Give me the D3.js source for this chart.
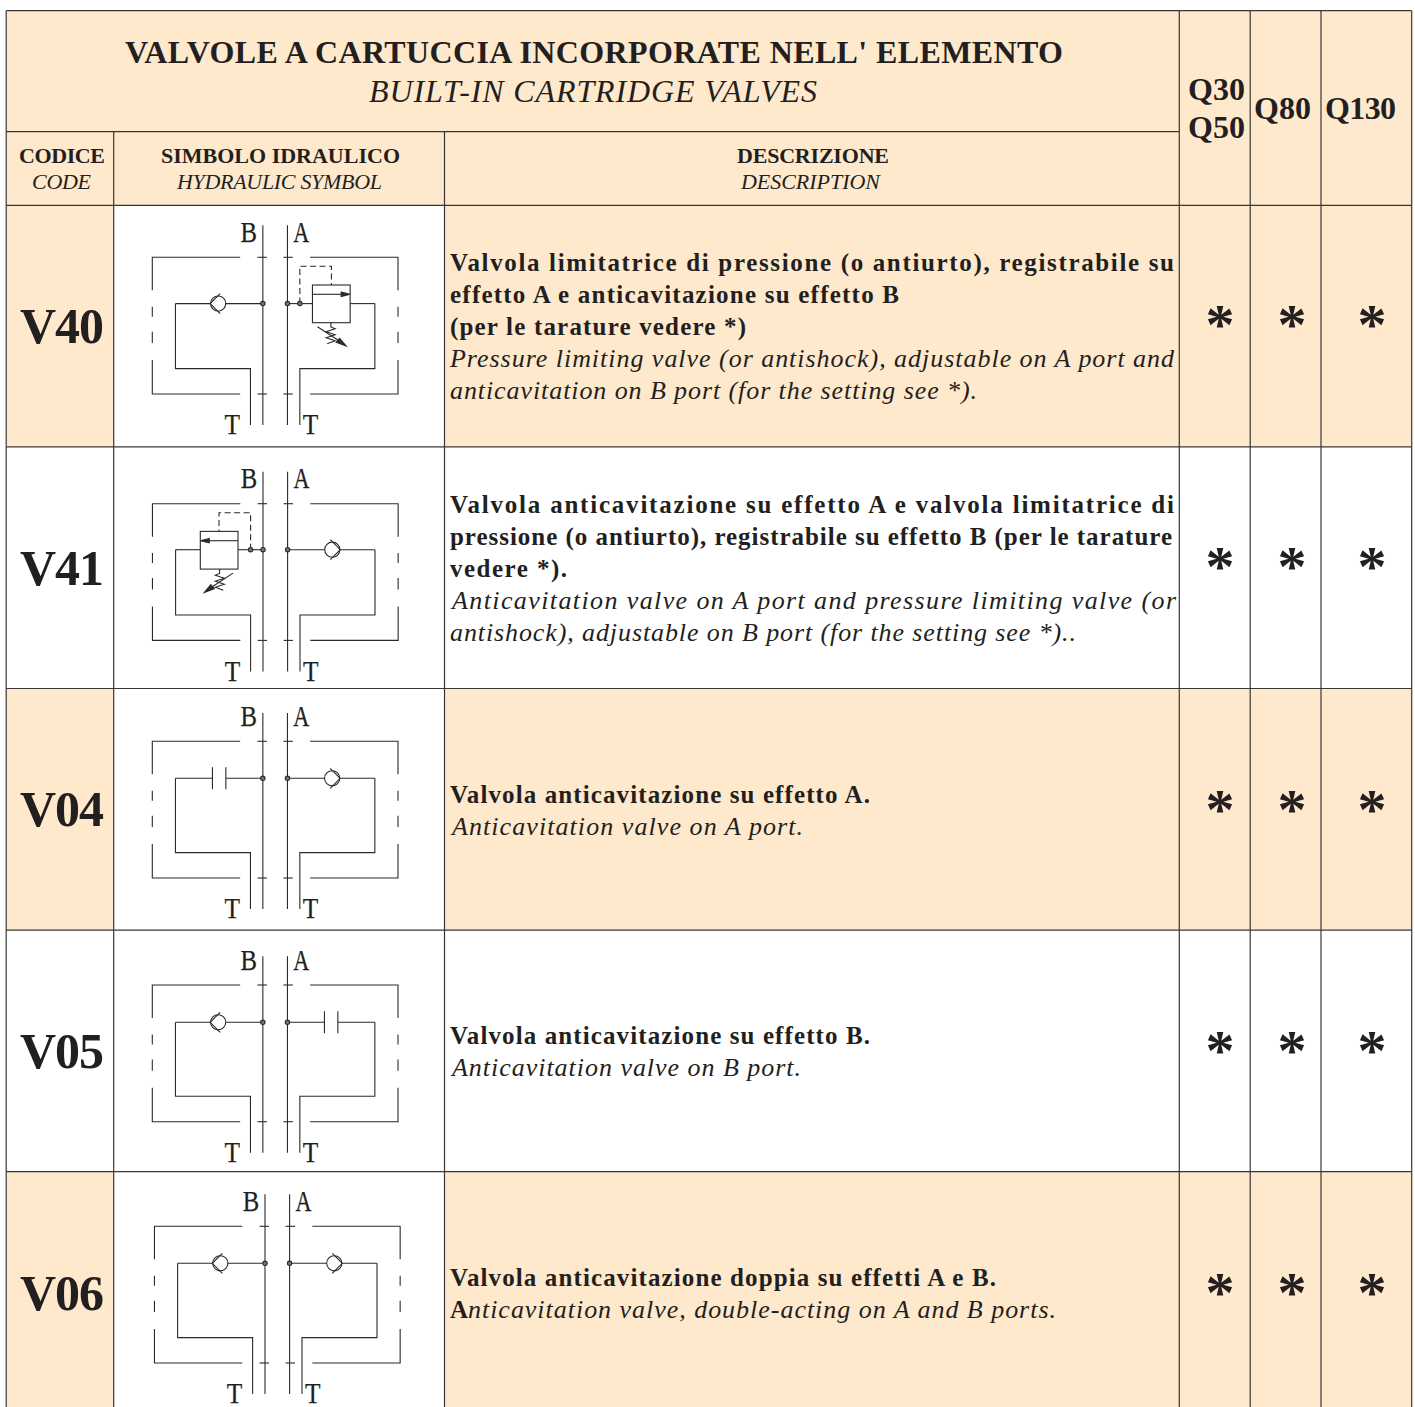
<!DOCTYPE html>
<html><head><meta charset="utf-8">
<script src="https://cdn.jsdelivr.net/npm/d3@7/dist/d3.min.js"></script>
<style>html,body{margin:0;padding:0;background:#fff;overflow:hidden}svg{display:block}
text{font-family:"Liberation Serif",serif;fill:#231f20}</style></head><body><script>
// ---- content ----
const codes = ["V40","V41","V04","V05","V06"];
const boldLines = [
 ["Valvola limitatrice di pressione (o antiurto), registrabile su","effetto A e anticavitazione su effetto B","(per le tarature vedere *)"],
 ["Valvola anticavitazione su effetto A e valvola limitatrice di","pressione (o antiurto), registrabile su effetto B (per le tarature","vedere *)."],
 ["Valvola anticavitazione su effetto A."],
 ["Valvola anticavitazione su effetto B."],
 ["Valvola anticavitazione doppia su effetti A e B."]];
const italicLines = [
 ["Pressure limiting valve (or antishock), adjustable on  A port and","anticavitation on B port (for the setting see *)."],
 ["Anticavitation valve on A port and pressure limiting valve (or","antishock), adjustable on B port (for the setting see *).."],
 ["Anticavitation valve on A port."],
 ["Anticavitation valve on B port."],
 ["Anticavitation valve, double-acting on A and B ports."]];
const leftDevice  = ["check","relief","orifice","check","check"];
const rightDevice = ["relief","check","check","orifice","check"];
const flowMarks = ["*","*","*"];

// ---- layout ----
const W=1415,H=1407,cream="#fee9cd",ink="#3a3637";
const L=6.2,R=1411.7,T0=10.7;
const colX=[L,113.7,444.5,1179.3,1250.2,1321,R];
const y=d3.scaleLinear().domain([0,5]).range([205.3,1413.3]);
const cellFill=[cream,"#fff",cream,"#fff",cream];
const boldW=[[724,449,296],[724,722,117],[420],[420],[546]];
const italW=[[724,527],[724,626],[351],[349],[588]];
const italX=[[450,450],[452,450],[452],[452],[468]];
const firstBase=[271,513,803,1044,1286];
const codeBase=[343,585,826,1068,1310];
const starY=[344,586,829,1070,1312];
const starX=[1220,1292,1372];
const frameTop=[257.3,503.7,741.3,985,1226.3];
const symDx=[275.15,275.3,275.15,275.15,277.3];
const branchY=[46.3,46,37,37.3,37];
const chanTop=[-32,-32,-28.3,-28.7,-32];
const labelDy=[-15.6,-15.7,-15.6,-14.7,-15.3];

const svg=d3.select("body").append("svg").attr("width",W).attr("height",H);
// backgrounds
svg.append("rect").attr("x",L).attr("y",T0).attr("width",R-L).attr("height",y(0)-T0).attr("fill",cream);
codes.forEach((c,i)=>{
  svg.append("rect").attr("x",L).attr("y",y(i)).attr("width",R-L).attr("height",y(1)-y(0)).attr("fill",cellFill[i]);
  svg.append("rect").attr("x",colX[1]).attr("y",y(i)).attr("width",colX[2]-colX[1]).attr("height",y(1)-y(0)).attr("fill","#fff");
});
// grid
const grid=svg.append("g").attr("stroke",ink).attr("stroke-width",1.2);
const hl=(a,b,v)=>grid.append("line").attr("x1",a).attr("x2",b).attr("y1",v).attr("y2",v);
const vl=(v,a,b)=>grid.append("line").attr("x1",v).attr("x2",v).attr("y1",a).attr("y2",b);
hl(L,R,T0); hl(L,colX[3],131.7);
d3.range(0,5).forEach(i=>hl(L,R,y(i)));
vl(L,T0,H); vl(R,T0,H);
vl(colX[1],131.7,H); vl(colX[2],131.7,H);
[3,4,5].forEach(k=>vl(colX[k],T0,H));

// helper text
function txt(s,x,yy,o){
  const t=svg.append("text").attr("x",x).attr("y",yy).attr("font-size",o.size)
    .attr("font-weight",o.bold?"bold":"normal").attr("font-style",o.it?"italic":"normal").text(s);
  if(o.w) t.attr("textLength",o.w).attr("lengthAdjust",o.adj||"spacing");
  if(o.anchor) t.attr("text-anchor",o.anchor);
  return t;
}
// headers
txt("VALVOLE A CARTUCCIA INCORPORATE NELL' ELEMENTO",125,63,{size:32,bold:1,w:938});
txt("BUILT-IN CARTRIDGE VALVES",369,102,{size:32,it:1,w:448});
txt("CODICE",19,163,{size:22,bold:1,w:86});
txt("CODE",32,189,{size:22,it:1,w:59});
txt("SIMBOLO IDRAULICO",161,163,{size:22,bold:1,w:239});
txt("HYDRAULIC SYMBOL",177,189,{size:22,it:1,w:205});
txt("DESCRIZIONE",737,163,{size:22,bold:1,w:152});
txt("DESCRIPTION",741,189,{size:22,it:1,w:139});
txt("Q30",1188,100,{size:32,bold:1,w:57});
txt("Q50",1188,138,{size:32,bold:1,w:57});
txt("Q80",1254,119,{size:32,bold:1,w:57});
txt("Q130",1325,119,{size:32,bold:1,w:71});

// rows
const LH=32;
codes.forEach((c,i)=>{
  txt(c,20,codeBase[i],{size:50,bold:1,w:84});
  boldLines[i].forEach((s,k)=>txt(s,450,firstBase[i]+k*LH,{size:25,bold:1,w:boldW[i][k]}));
  italicLines[i].forEach((s,k)=>{
    const by=firstBase[i]+(boldLines[i].length+k)*LH;
    if(i===4){
      txt(s[0],450,by,{size:25,bold:1,w:18});
      txt(s.slice(1),italX[i][k],by,{size:26,it:1,w:italW[i][k]});
    } else txt(s,italX[i][k],by,{size:26,it:1,w:italW[i][k]});
  });
  flowMarks.forEach((m,k)=>txt(m,starX[k],starY[i],{size:58,bold:1,anchor:"middle"}));
  drawSymbol(i);
});

function drawSymbol(i){
  const g=svg.append("g").attr("transform",`translate(${symDx[i]},${frameTop[i]})`)
    .attr("fill","none").attr("stroke","#2c2a2b").attr("stroke-width",1.1);
  const line=d3.line();
  const P=pts=>g.append("path").attr("d",line(pts));
  const by=branchY[i],FW=122.85,FB=136.7,IB=111.3,IW=99.7,CH=12.3,TX=24.7,END=167.7;
  [-1,1].forEach(s=>{
    // outer pilot frame
    P([[s*35,0],[s*FW,0],[s*FW,33]]);
    P([[s*FW,49.4],[s*FW,59.4]]);
    P([[s*FW,74.4],[s*FW,85.7]]);
    P([[s*FW,102.7],[s*FW,FB],[s*35,FB]]);
    P([[s*8.3,0],[s*17.7,0]]); P([[s*8.3,FB],[s*17.7,FB]]);
    // channel
    P([[s*CH,chanTop[i]],[s*CH,END]]);
    const dev=s<0?leftDevice[i]:rightDevice[i];
    // return line
    P([[s*TX,END],[s*TX,IB],[s*IW,IB],[s*IW,by]]);
    if(dev==="check"){
      P([[s*CH,by],[s*49.4,by]]);P([[s*IW,by],[s*65,by]]);
      g.append("circle").attr("cx",s*57).attr("cy",by).attr("r",7.6).attr("fill","#fff");
      P([[s*55,by-10],[s*65,by],[s*55,by+10]]);
    } else if(dev==="orifice"){
      P([[s*CH,by],[s*49.3,by]]);P([[s*62.7,by],[s*IW,by]]);
      P([[s*49.3,by-11],[s*49.3,by+11]]);P([[s*62.7,by-11],[s*62.7,by+11]]);
    } else {
      P([[s*CH,by],[s*37.3,by]]);P([[s*75,by],[s*IW,by]]);
      g.append("rect").attr("x",s>0?37.3:-75).attr("y",27.7).attr("width",37.7).attr("height",37.7).attr("fill","#fff");
      P([[s*37.3,37],[s*66,37]]);
      g.append("path").attr("d",line([[s*66,34.8],[s*75,37],[s*66,39.2]])+"Z").attr("fill","#2c2a2b");
      g.append("path").attr("stroke-dasharray","6 3.5").attr("d",line([[s*TX,by],[s*TX,9],[s*56.3,9],[s*56.3,27.7]]));
      g.append("circle").attr("cx",s*TX).attr("cy",by).attr("r",2.2).attr("fill","#777");
      P([[s*55.7,65.3],[s*55.7,69.7],[s*60,71.5],[s*51,74.5],[s*60,77.5],[s*51,80.5],[s*60,83.5],[s*52,86.5]]);
      P([[s*42.3,69.4],[s*63,83]]);
      g.append("path").attr("d",line([[s*61,85],[s*71,88.8],[s*64.5,81]])+"Z").attr("fill","#2c2a2b");
    }
    g.append("circle").attr("cx",s*CH).attr("cy",by).attr("r",2.2).attr("fill","#777");
    // port labels
    const lab=(t,x,yy,w)=>g.append("text").attr("x",x).attr("y",yy).attr("font-size",29).attr("stroke","#231f20").attr("stroke-width",0.25)
      .attr("textLength",w).attr("lengthAdjust","spacingAndGlyphs").text(t);
    if(s<0){ lab("B",-34.6,labelDy[i],16.5); lab("T",-50.6,177,15.5); }
    else   { lab("A",18.2,labelDy[i],16); lab("T",27.6,177,15.5); }
  });
}
</script></body></html>
